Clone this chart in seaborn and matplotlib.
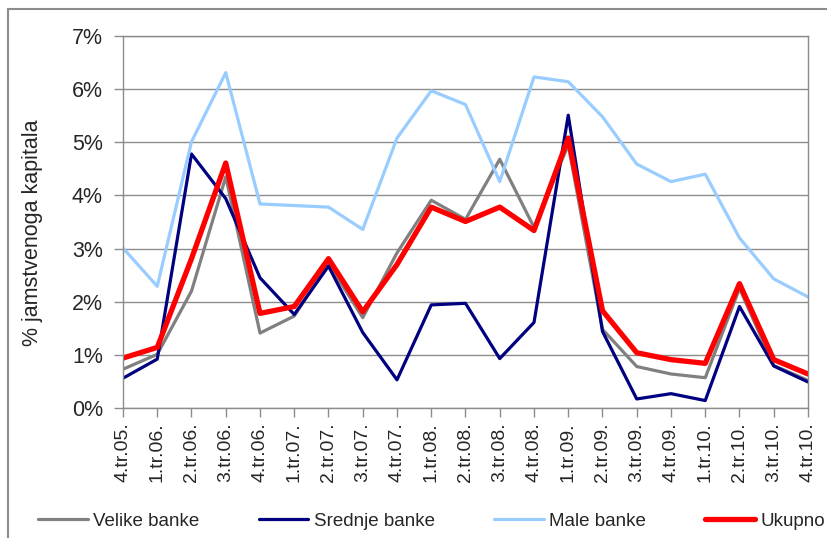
import matplotlib
matplotlib.use("Agg")
import matplotlib.pyplot as plt
import matplotlib.patches as mpatches
import numpy as np
import pandas as pd
import seaborn as sns

# Data (% of guaranteed capital)
quarters = ["4.tr.05.", "1.tr.06.", "2.tr.06.", "3.tr.06.", "4.tr.06.",
            "1.tr.07.", "2.tr.07.", "3.tr.07.", "4.tr.07.",
            "1.tr.08.", "2.tr.08.", "3.tr.08.", "4.tr.08.",
            "1.tr.09.", "2.tr.09.", "3.tr.09.", "4.tr.09.",
            "1.tr.10.", "2.tr.10.", "3.tr.10.", "4.tr.10."]
velike = [0.73, 1.01, 2.20, 4.35, 1.41, 1.73, 2.72, 1.70, 2.92, 3.91, 3.55,
          4.68, 3.40, 4.95, 1.48, 0.78, 0.64, 0.57, 2.25, 0.80, 0.52]
srednje = [0.56, 0.92, 4.78, 3.94, 2.45, 1.76, 2.67, 1.42, 0.53, 1.94, 1.97,
           0.93, 1.61, 5.51, 1.44, 0.17, 0.27, 0.14, 1.91, 0.79, 0.49]
male = [3.01, 2.29, 5.01, 6.31, 3.84, 3.81, 3.78, 3.36, 5.08, 5.97, 5.71,
        4.26, 6.23, 6.14, 5.48, 4.59, 4.26, 4.40, 3.20, 2.43, 2.09]
ukupno = [0.94, 1.14, 2.81, 4.61, 1.78, 1.91, 2.81, 1.81, 2.70, 3.78, 3.51,
          3.78, 3.34, 5.08, 1.83, 1.04, 0.91, 0.84, 2.34, 0.91, 0.64]

series_names = ["Velike banke", "Srednje banke", "Male banke", "Ukupno"]
colors = ["#808080", "#000080", "#99CCFF", "#FF0000"]
widths = [2.3, 2.3, 2.3, 3.8]

df = pd.DataFrame({"x": np.arange(len(quarters)),
                   "Velike banke": velike, "Srednje banke": srednje,
                   "Male banke": male, "Ukupno": ukupno})
df_long = df.melt(id_vars="x", var_name="serija", value_name="value")

sns.set_style("white")
plt.rcParams["font.family"] = ["Liberation Sans", "DejaVu Sans"]

fig = plt.figure(figsize=(8.28, 5.38), dpi=100)
ax = fig.add_axes([123 / 828, 1 - 408 / 538, (808 - 123) / 828, (408 - 36) / 538])

for name, col, lw in zip(series_names, colors, widths):
    sns.lineplot(data=df_long[df_long["serija"] == name], x="x", y="value",
                 color=col, linewidth=lw, ax=ax, label=name, legend=False)

ax.set_xlim(0, len(quarters) - 1)
ax.set_ylim(0, 7)
ax.set_yticks(range(0, 8))
ax.set_yticklabels([f"{i}%" for i in range(0, 8)], fontsize=15.5)
ax.set_xticks(df["x"])
ax.set_xticklabels(quarters, rotation=90, fontsize=14)
ax.set_xlabel("")
ax.set_ylabel("% jamstvenoga kapitala", fontsize=15.5)
ax.yaxis.set_label_coords(-0.117, 0.47)

ax.grid(axis="y", color="#8c8c8c", linewidth=1.0)
ax.grid(axis="x", visible=False)
for s in ax.spines.values():
    s.set_color("#8c8c8c")
    s.set_linewidth(1.0)
ax.tick_params(axis="both", which="both", direction="out", length=6.5,
               color="#8c8c8c", width=1.0, pad=4)
ax.tick_params(axis="y", left=True, pad=8)
ax.tick_params(axis="x", bottom=True)

handles = [plt.Line2D([], [], color=c, linewidth=lw) for c, lw in zip(colors, widths)]
fig.legend(handles, series_names, loc="center left", bbox_to_anchor=(38 / 828, 1 - 521 / 538),
           ncol=4, frameon=False, fontsize=13.5, handlelength=2.65, handletextpad=0.3,
           columnspacing=3.15, borderpad=0, borderaxespad=0)

# outer chart border (extends past the right and bottom edge of the image)
fig.patches.append(mpatches.Rectangle((8 / 828, -0.1), 1.2, 1.1 - 9 / 538,
                                      transform=fig.transFigure, fill=False,
                                      edgecolor="#8c8c8c", linewidth=1.5))

fig.savefig("out.png", dpi=100)
